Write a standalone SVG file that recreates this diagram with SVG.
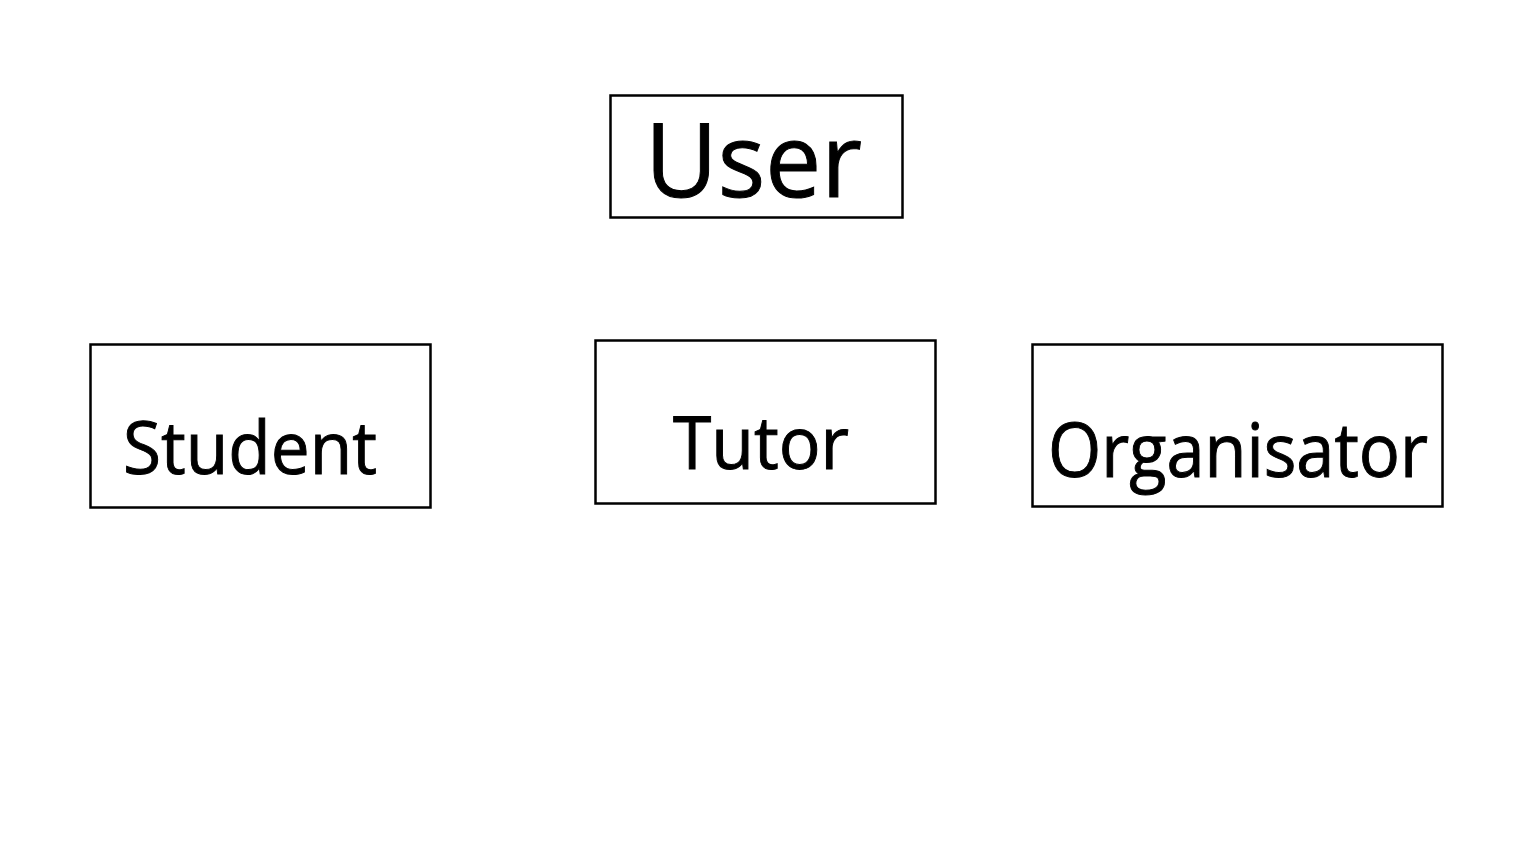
<svg xmlns="http://www.w3.org/2000/svg" width="1536" height="864" viewBox="0 0 1536 864">
<style>
.box{fill:#fff;stroke:#000;stroke-width:2.5}
.lbl{font-family:"Open Sans","Liberation Sans",sans-serif;fill:#000;stroke:#000;stroke-width:1}
</style>
<rect width="1536" height="864" fill="#fff"/>
<g id="connectors"></g>
<g id="user">
<rect class="box" x="610.5" y="95.5" width="292" height="122"/>
<text class="lbl" x="645" y="197" font-size="102" textLength="217" lengthAdjust="spacingAndGlyphs">User</text>
</g>
<g id="student">
<rect class="box" x="90.5" y="344.5" width="340" height="163"/>
<text class="lbl" x="123" y="474" font-size="73" textLength="254" lengthAdjust="spacingAndGlyphs">Student</text>
</g>
<g id="tutor">
<rect class="box" x="595.5" y="340.5" width="340" height="163"/>
<text class="lbl" x="673" y="469" font-size="73" textLength="176" lengthAdjust="spacingAndGlyphs">Tutor</text>
</g>
<g id="organisator">
<rect class="box" x="1032.5" y="344.5" width="410" height="162"/>
<text class="lbl" x="1048" y="477" font-size="75" textLength="380" lengthAdjust="spacingAndGlyphs">Organisator</text>
</g>
</svg>
